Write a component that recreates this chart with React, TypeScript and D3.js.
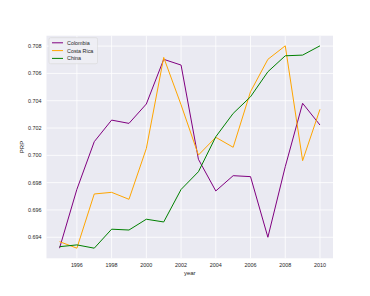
import React from "react";
import * as d3 from "d3";

const years = [1995, 1996, 1997, 1998, 1999, 2000, 2001, 2002, 2003, 2004, 2005, 2006, 2007, 2008, 2009, 2010];
const colombia = [0.6932, 0.69751, 0.701, 0.70258, 0.70234, 0.70376, 0.70703, 0.70661, 0.69971, 0.69739, 0.69851, 0.69844, 0.694, 0.69917, 0.70381, 0.70222];
const costaRica = [0.69368, 0.6932, 0.69717, 0.69729, 0.69678, 0.7005, 0.70717, 0.7037, 0.70002, 0.70132, 0.70059, 0.70466, 0.70703, 0.70802, 0.69961, 0.70337];
const china = [0.69331, 0.69344, 0.6932, 0.69459, 0.69453, 0.69532, 0.69512, 0.6975, 0.6988, 0.70136, 0.70307, 0.70429, 0.70612, 0.70729, 0.70734, 0.70802];
const seriesNames = ["Colombia", "Costa Rica", "China"];
const seriesColors = ["#800080", "#FFA500", "#008000"];
const xTicks = [1996, 1998, 2000, 2002, 2004, 2006, 2008, 2010];
const yTicks = [0.694, 0.696, 0.698, 0.7, 0.702, 0.704, 0.706, 0.708];

export default function App() {
  const W = 370, H = 296;
  const left = 46.5, right = 333, top = 35.7, bottom = 258.3;
  const allVals = [...colombia, ...costaRica, ...china];
  const ymin = d3.min(allVals)!, ymax = d3.max(allVals)!;
  const yp = (ymax - ymin) * 0.05;
  const xp = (2010 - 1995) * 0.05;
  const x = d3.scaleLinear().domain([1995 - xp, 2010 + xp]).range([left, right]);
  const y = d3.scaleLinear().domain([ymin - yp, ymax + yp]).range([bottom, top]);
  const data = [colombia, costaRica, china];
  const line = d3.line<number>().x((_, i) => x(years[i])).y((d) => y(d));
  const font = "'Liberation Sans', Arial, sans-serif";
  const fs = 5.4;
  return (
    <svg width={W} height={H} style={{ position: "absolute", left: 0, top: 0, background: "#fff" }}>
      <rect x={left} y={top} width={right - left} height={bottom - top} fill="#EAEAF2" />
      {xTicks.map((t) => (
        <line key={"gx" + t} x1={x(t)} x2={x(t)} y1={top} y2={bottom} stroke="#fff" strokeWidth={0.8} />
      ))}
      {yTicks.map((t) => (
        <line key={"gy" + t} x1={left} x2={right} y1={y(t)} y2={y(t)} stroke="#fff" strokeWidth={0.8} />
      ))}
      {data.map((s, i) => (
        <path key={i} d={line(s)!} fill="none" stroke={seriesColors[i]} strokeWidth={1} strokeLinejoin="round" />
      ))}
      {xTicks.map((t) => (
        <text key={"tx" + t} x={x(t)} y={bottom + 9} fontSize={fs} fontFamily={font} fill="#262626" textAnchor="middle">{t}</text>
      ))}
      {yTicks.map((t) => (
        <text key={"ty" + t} x={left - 5} y={y(t) + 2} fontSize={fs} fontFamily={font} fill="#262626" textAnchor="end">{t.toFixed(3)}</text>
      ))}
      <text x={(left + right) / 2} y={275} fontSize={6} fontFamily={font} fill="#262626" textAnchor="middle">year</text>
      <text transform={`translate(24,${(top + bottom) / 2}) rotate(-90)`} fontSize={6} fontFamily={font} fill="#262626" textAnchor="middle">PRP</text>
      <rect x={49} y={37.7} width={48.5} height={26} rx={1.5} fill="#EEEEF4" fillOpacity={0.9} stroke="#d8d8d8" strokeWidth={0.6} />
      {seriesNames.map((n, i) => (
        <g key={n}>
          <line x1={52} x2={63} y1={42.8 + i * 7.8} y2={42.8 + i * 7.8} stroke={seriesColors[i]} strokeWidth={1} />
          <text x={67} y={44.8 + i * 7.8} fontSize={fs} fontFamily={font} fill="#262626">{n}</text>
        </g>
      ))}
    </svg>
  );
}
